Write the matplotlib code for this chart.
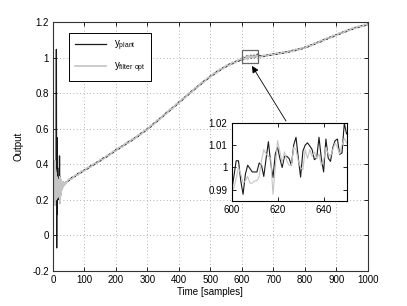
import numpy as np
import matplotlib
matplotlib.use("Agg")
import matplotlib.pyplot as plt
from matplotlib.ticker import FuncFormatter
from matplotlib.patches import Rectangle

plt.rcParams['font.family'] = ['Liberation Sans', 'DejaVu Sans']
plt.rcParams['font.size'] = 7
plt.rcParams['axes.unicode_minus'] = False

# --- start-up transient, one value per sample ---
plant_t0 = np.arange(9, 40)
plant_y0 = [0.30, 0.22, 1.046, -0.07, 0.55, 0.12, 0.38, 0.20, 0.30, 0.24,
            0.28, 0.25, 0.447, 0.18, 0.33, 0.22, 0.29, 0.25, 0.28, 0.26,
            0.28, 0.27, 0.285, 0.275, 0.29, 0.28, 0.29, 0.285, 0.295, 0.29, 0.295]
filt_t0 = np.arange(5, 40)
filt_y0 = [0.25, 0.42, 0.17, 0.37, 0.20, 0.35, 0.22, 0.33, 0.21, 0.32,
           0.22, 0.31, 0.23, 0.31, 0.22, 0.30, 0.21, 0.33, 0.18, 0.32,
           0.23, 0.31, 0.25, 0.30, 0.26, 0.30, 0.27, 0.30, 0.275, 0.30,
           0.28, 0.295, 0.285, 0.295, 0.29]

# --- samples 40..590, every 10th ---
t1 = np.arange(40, 600, 10)
plant_y1 = [0.298, 0.307, 0.326, 0.331, 0.349, 0.353, 0.369, 0.374, 0.392, 0.396,
            0.413, 0.418, 0.436, 0.440, 0.458, 0.464, 0.483, 0.487, 0.504, 0.510,
            0.528, 0.532, 0.550, 0.556, 0.576, 0.582, 0.601, 0.609, 0.631, 0.639,
            0.660, 0.669, 0.691, 0.699, 0.720, 0.729, 0.751, 0.759, 0.781, 0.790,
            0.812, 0.820, 0.841, 0.849, 0.870, 0.877, 0.897, 0.903, 0.922, 0.927,
            0.944, 0.948, 0.964, 0.965, 0.979, 0.980]
filt_y1 = [0.290, 0.316, 0.317, 0.339, 0.340, 0.362, 0.361, 0.383, 0.383, 0.405,
           0.405, 0.427, 0.427, 0.449, 0.450, 0.473, 0.474, 0.496, 0.496, 0.519,
           0.519, 0.541, 0.542, 0.565, 0.567, 0.591, 0.593, 0.618, 0.622, 0.648,
           0.652, 0.678, 0.682, 0.708, 0.712, 0.738, 0.742, 0.768, 0.773, 0.799,
           0.803, 0.829, 0.833, 0.858, 0.861, 0.886, 0.889, 0.912, 0.913, 0.936,
           0.936, 0.957, 0.955, 0.974, 0.971, 0.989]

# --- samples 600..650, one value per sample (zoomed window) ---
t2 = np.arange(600, 651)
plant_y2 = [0.9895, 0.996, 1.003, 1.003, 0.994, 0.988, 0.997, 1.001, 0.9995, 0.998,
            0.998, 0.998, 1.002, 1.001, 0.996, 1.004, 1.0115, 1.002, 0.9955, 1.006,
            1.009, 1.004, 1.000, 1.005, 1.005, 1.004, 1.001, 1.010, 1.0135, 1.0042,
            0.9957, 1.0073, 1.010, 1.011, 1.0096, 1.008, 1.0035, 1.0042, 1.0135, 1.0042,
            0.998, 1.0127, 1.0042, 1.0027, 1.0089, 1.012, 1.0127, 1.0058, 1.0065, 1.0197,
            1.015]
filt_y2 = [0.989, 0.991, 0.995, 1.000, 0.997, 0.993, 0.994, 0.996, 0.993, 0.993,
           0.994, 0.994, 0.996, 1.003, 1.008, 1.006, 1.005, 1.004, 0.988, 1.000,
           1.012, 1.007, 1.002, 1.007, 1.003, 1.001, 1.001, 1.009, 1.008, 1.003,
           1.000, 0.999, 1.008, 1.004, 1.008, 1.005, 1.007, 1.004, 1.006, 1.001,
           1.003, 1.009, 1.006, 1.005, 1.008, 1.011, 1.009, 1.006, 1.010, 1.013,
           1.011]

# --- samples 660..1000, every 10th ---
t3 = np.arange(660, 1001, 10)
plant_y3 = [1.009, 1.006, 1.015, 1.012, 1.021, 1.018, 1.027, 1.024, 1.033, 1.031,
            1.041, 1.039, 1.049, 1.048, 1.059, 1.060, 1.073, 1.074, 1.087, 1.088,
            1.102, 1.103, 1.116, 1.117, 1.130, 1.131, 1.144, 1.145, 1.158, 1.158,
            1.170, 1.169, 1.180, 1.179, 1.189]
filt_y3 = [1.002, 1.014, 1.008, 1.020, 1.014, 1.026, 1.020, 1.032, 1.026, 1.039,
           1.034, 1.047, 1.042, 1.056, 1.052, 1.068, 1.066, 1.082, 1.080, 1.096,
           1.095, 1.111, 1.109, 1.125, 1.123, 1.139, 1.137, 1.153, 1.151, 1.166,
           1.163, 1.177, 1.173, 1.187, 1.183]

t_plant = np.concatenate([plant_t0, t1, t2, t3])
y_plant = np.concatenate([plant_y0, plant_y1, plant_y2, plant_y3])
t_filt = np.concatenate([filt_t0, t1, t2, t3])
y_filt = np.concatenate([filt_y0, filt_y1, filt_y2, filt_y3])

plant_color = '#1a1a1a'
filt_color = '#c4c4c4'
fmt = FuncFormatter(lambda v, p: '%g' % round(v, 4))

fig = plt.figure(figsize=(4.07, 3.06), dpi=100)
ax = fig.add_axes([0.130, 0.1144, 0.774, 0.8137])
ax.plot(t_plant, y_plant, color=plant_color, lw=0.9, label=r'$\mathregular{y_{plant}}$')
ax.plot(t_filt, y_filt, color=filt_color, lw=1.2, label=r'$\mathregular{y_{filter\ opt}}$')
ax.set_xlim(0, 1000)
ax.set_ylim(-0.2, 1.2)
ax.set_xticks(np.arange(0, 1001, 100))
ax.set_yticks(np.arange(-0.2, 1.21, 0.2))
ax.yaxis.set_major_formatter(fmt)
ax.grid(True, linestyle=(0, (1, 3)), color='#999999', lw=0.6)
ax.tick_params(direction='in', top=True, right=True, length=3, width=0.6, pad=3)
for s in ax.spines.values():
    s.set_linewidth(0.8)
    s.set_color('#333333')
ax.set_xlabel('Time [samples]', labelpad=1)
ax.set_ylabel('Output', labelpad=6)
leg = ax.legend(loc='upper left', bbox_to_anchor=(0.035, 0.975), fancybox=False,
                edgecolor='black', framealpha=1, handlelength=3.2, borderpad=0.6,
                labelspacing=0.8, fontsize=7)
leg.get_frame().set_linewidth(0.7)

ax.add_patch(Rectangle((600, 0.97), 50, 0.07, fill=False, ec='#666666', lw=0.9, zorder=5))
ax.annotate('', xy=(632, 0.953), xytext=(740, 0.643),
            arrowprops=dict(arrowstyle='-|>', color='black', lw=0.6,
                            mutation_scale=10, shrinkA=0, shrinkB=0))

ins = fig.add_axes([0.569, 0.343, 0.2826, 0.256])
ins.plot(t_plant, y_plant, color=plant_color, lw=0.8)
ins.plot(t_filt, y_filt, color=filt_color, lw=0.8)
ins.set_xlim(600, 650)
ins.set_ylim(0.985, 1.02)
ins.set_xticks([600, 620, 640])
ins.set_yticks([0.99, 1.0, 1.01, 1.02])
ins.yaxis.set_major_formatter(fmt)
ins.tick_params(direction='in', top=True, right=True, length=3, width=0.6, pad=3)
for s in ins.spines.values():
    s.set_linewidth(0.8)
    s.set_color('black')

fig.savefig('out.png', dpi=100)
